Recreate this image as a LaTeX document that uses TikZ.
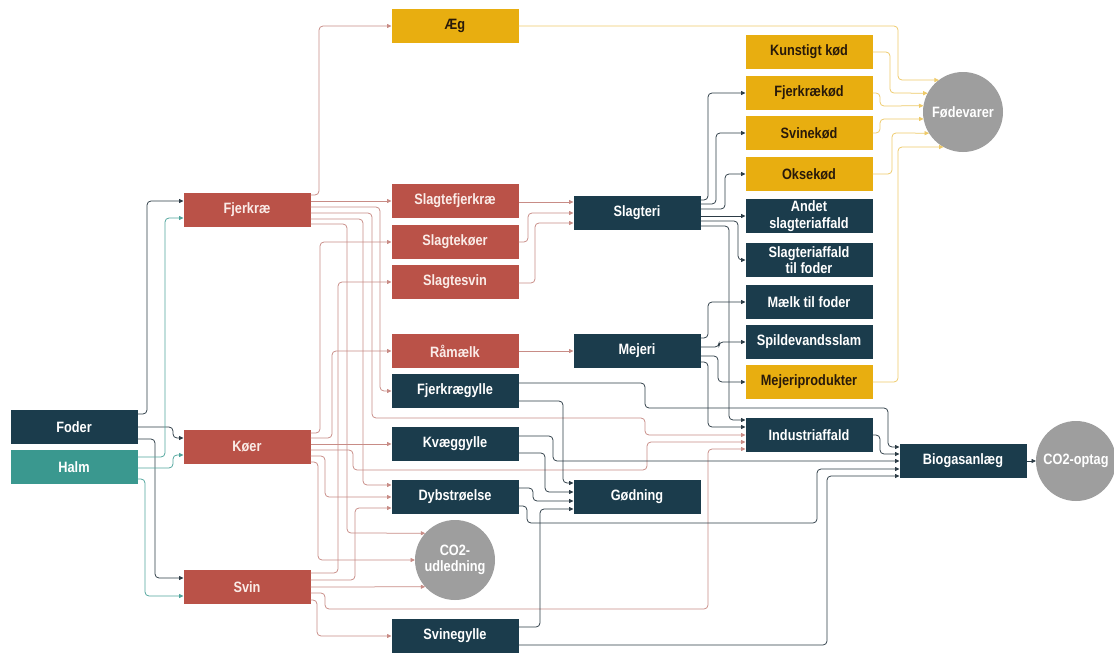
\documentclass[tikz,border=0pt]{standalone}
\usepackage{fontspec}
\setmainfont{Liberation Sans}[FakeStretch=0.85]
\usetikzlibrary{arrows.meta}
\definecolor{navy}{RGB}{27,60,76}
\definecolor{redb}{RGB}{186,82,72}
\definecolor{yell}{RGB}{232,174,16}
\definecolor{ytext}{RGB}{40,25,10}
\definecolor{tealb}{RGB}{58,152,143}
\definecolor{grayc}{RGB}{158,158,158}
\definecolor{rline}{RGB}{200,140,134}
\definecolor{dline}{RGB}{45,60,70}
\definecolor{tline}{RGB}{80,165,156}
\definecolor{yline}{RGB}{238,202,105}
\begin{document}
\begin{tikzpicture}[x=1pt,y=-1pt,
  box/.style={minimum width=127pt,minimum height=34pt,inner sep=1pt,outer sep=0pt,
    font=\fontsize{15}{16.5}\selectfont\bfseries,align=center,text=white},
  nb/.style={box,fill=navy},
  rb/.style={box,fill=redb,text={rgb,255:red,250;green,236;blue,232}},
  yb/.style={box,fill=yell,text=ytext},
  tb/.style={box,fill=tealb},
  gc/.style={circle,fill=grayc,minimum size=80pt,inner sep=0pt,outer sep=0pt,text=white,
    font=\fontsize{15}{16.5}\selectfont\bfseries,align=center},
  con/.style={line width=0.75pt,rounded corners=4pt,-{Triangle[length=4.5pt,width=4pt]}},
  rl/.style={con,draw=rline},
  dl/.style={con,draw=dline},
  tl/.style={con,draw=tline},
  yl/.style={con,draw=yline}]
\fill[white] (0,0) rectangle (1114,653);
\useasboundingbox (0,0) rectangle (1114,653);
% nodes
\node[yb] (aeg) at (455,26) {Æg};
\node[yb] (kunst) at (809,52) {Kunstigt kød};
\node[yb] (fjkod) at (809,93) {Fjerkrækød};
\node[yb] (svkod) at (809,133) {Svinekød};
\node[yb] (okkod) at (809,174) {Oksekød};
\node[nb] (andet) at (809,216) {Andet\\slagteriaffald};
\node[nb] (slaf) at (809,260) {Slagteriaffald\\til foder};
\node[nb] (maelk) at (809,302) {Mælk til foder};
\node[nb] (spild) at (809,342) {Spildevandsslam};
\node[yb] (mejprod) at (809,382) {Mejeriprodukter};
\node[nb] (indu) at (809,435) {Industriaffald};
\node[gc] (fode) at (963,112) {Fødevarer};
\node[nb] (bio) at (963,461) {Biogasanlæg};
\node[gc] (co2o) at (1076,461) {CO2-optag};
\node[rb] (fjerkrae) at (247,210) {Fjerkræ};
\node[nb] (foder) at (74,427) {Foder};
\node[tb] (halm) at (74,467) {Halm};
\node[rb] (koer) at (247,447) {Køer};
\node[rb] (svin) at (247,587) {Svin};
\node[rb] (slfj) at (455,201) {Slagtefjerkræ};
\node[rb] (slko) at (455,242) {Slagtekøer};
\node[rb] (slsv) at (455,282) {Slagtesvin};
\node[rb] (raa) at (455,351) {Råmælk};
\node[nb] (fjgy) at (455,391) {Fjerkrægylle};
\node[nb] (kvgy) at (455,444) {Kvæggylle};
\node[nb] (dyb) at (455,497) {Dybstrøelse};
\node[gc] (co2u) at (455,560) {CO2-\\udledning};
\node[nb] (svgy) at (455,636) {Svinegylle};
\node[nb] (slagteri) at (637,213) {Slagteri};
\node[nb] (mejeri) at (637,351) {Mejeri};
\node[nb] (godn) at (637,497) {Gødning};
% Foder and Halm
\draw[dl] (foder.east |- 0,414) -- (147,414) -- (147,201) -- (0,201 -| fjerkrae.west);
\draw[dl] (foder.east |- 0,427) -- (173,427) -- (173,438) -- (0,438 -| koer.west);
\draw[dl] (foder.east |- 0,439) -- (155,439) -- (155,578) -- (0,578 -| svin.west);
\draw[tl] (halm.east |- 0,457) -- (165,457) -- (165,218) -- (0,218 -| fjerkrae.west);
\draw[tl] (halm.east |- 0,468) -- (173,468) -- (173,455) -- (0,455 -| koer.west);
\draw[tl] (halm.east |- 0,479) -- (145,479) -- (145,596) -- (0,596 -| svin.west);
% Fjerkrae
\draw[rl] (fjerkrae.east |- 0,195) -- (319,195) -- (319,26) -- (0,26 -| aeg.west);
\draw[rl] (fjerkrae.east |- 0,201) -- (0,201 -| slfj.west);
\draw[rl] (fjerkrae.east |- 0,207) -- (380,207) -- (380,391) -- (0,391 -| fjgy.west);
\draw[rl] (fjerkrae.east |- 0,213) -- (372,213) -- (372,418) -- (645,418) -- (645,435) -- (0,435 -| indu.west);
\draw[rl] (fjerkrae.east |- 0,219) -- (363,219) -- (363,485) -- (0,485 -| dyb.west);
\draw[rl] (fjerkrae.east |- 0,224) -- (347,224) -- (347,533) -- (co2u.138);
% Koer
\draw[rl] (koer.east |- 0,433) -- (320,433) -- (320,242) -- (0,242 -| slko.west);
\draw[rl] (koer.east |- 0,438) -- (332,438) -- (332,351) -- (0,351 -| raa.west);
\draw[rl] (koer.east |- 0,444) -- (0,444 -| kvgy.west);
\draw[rl] (koer.east |- 0,450) -- (353,450) -- (353,470) -- (647,470) -- (647,442) -- (0,442 -| indu.west);
\draw[rl] (koer.east |- 0,456) -- (325,456) -- (325,497) -- (0,497 -| dyb.west);
\draw[rl] (koer.east |- 0,462) -- (318,462) -- (318,560) -- (co2u.west);
% Svin
\draw[rl] (svin.east |- 0,573) -- (338,573) -- (338,282) -- (0,282 -| slsv.west);
\draw[rl] (svin.east |- 0,580) -- (355,580) -- (355,508) -- (0,508 -| dyb.west);
\draw[rl] (svin.east |- 0,587) -- (co2u.222);
\draw[rl] (svin.east |- 0,593) -- (325,593) -- (325,609) -- (708,609) -- (708,449) -- (0,449 -| indu.west);
\draw[rl] (svin.east |- 0,600) -- (317,600) -- (317,636) -- (0,636 -| svgy.west);
% Slagte- and Raamaelk
\draw[rl] (slfj.east |- 0,202) -- (0,202 -| slagteri.west);
\draw[rl] (slko.east |- 0,242) -- (528,242) -- (528,213) -- (0,213 -| slagteri.west);
\draw[rl] (slsv.east |- 0,283) -- (535,283) -- (535,223) -- (0,223 -| slagteri.west);
\draw[rl] (raa.east |- 0,351) -- (0,351 -| mejeri.west);
% gylle etc.
\draw[dl] (fjgy.east |- 0,383) -- (645,383) -- (645,408) -- (888,408) -- (888,447) -- (0,447 -| bio.west);
\draw[dl] (fjgy.east |- 0,401) -- (563,401) -- (563,483) -- (0,483 -| godn.west);
\draw[dl] (kvgy.east |- 0,436) -- (553,436) -- (553,461) -- (0,461 -| bio.west);
\draw[dl] (kvgy.east |- 0,453) -- (545,453) -- (545,492) -- (0,492 -| godn.west);
\draw[dl] (dyb.east |- 0,488) -- (533,488) -- (533,501) -- (0,501 -| godn.west);
\draw[dl] (dyb.east |- 0,506) -- (527,506) -- (527,523) -- (817,523) -- (817,469) -- (0,469 -| bio.west);
\draw[dl] (svgy.east |- 0,627) -- (540,627) -- (540,509) -- (0,509 -| godn.west);
\draw[dl] (svgy.east |- 0,645) -- (827,645) -- (827,476) -- (0,476 -| bio.west);
\draw[dl] (indu.east |- 0,435) -- (880,435) -- (880,454) -- (0,454 -| bio.west);
% Slagteri
\draw[dl] (slagteri.east |- 0,200) -- (708,200) -- (708,93) -- (0,93 -| fjkod.west);
\draw[dl] (slagteri.east |- 0,204) -- (716,204) -- (716,133) -- (0,133 -| svkod.west);
\draw[dl] (slagteri.east |- 0,209) -- (725,209) -- (725,174) -- (0,174 -| okkod.west);
\draw[dl] (slagteri.east |- 0,216) -- (0,216 -| andet.west);
\draw[dl] (slagteri.east |- 0,221) -- (738,221) -- (738,260) -- (0,260 -| slaf.west);
\draw[dl] (slagteri.east |- 0,226) -- (729,226) -- (729,420) -- (0,420 -| indu.west);
% Mejeri
\draw[dl] (mejeri.east |- 0,338) -- (708,338) -- (708,302) -- (0,302 -| maelk.west);
\draw[dl] (mejeri.east |- 0,347) -- (719,347) -- (719,342) -- (0,342 -| spild.west);
\draw[dl] (mejeri.east |- 0,356) -- (718,356) -- (718,382) -- (0,382 -| mejprod.west);
\draw[dl] (mejeri.east |- 0,362) -- (708,362) -- (708,427) -- (0,427 -| indu.west);
% Biogas
\draw[dl] (bio.east) -- (co2o.west);
% Foedevarer
\draw[yl] (aeg.east |- 0,26) -- (898,26) -- (898,80) -- (fode.127);
\draw[yl] (kunst.east |- 0,52) -- (890,52) -- (890,93) -- (fode.152);
\draw[yl] (fjkod.east |- 0,93) -- (880,93) -- (880,106) -- (fode.171);
\draw[yl] (svkod.east |- 0,133) -- (880,133) -- (880,119) -- (fode.190);
\draw[yl] (okkod.east |- 0,174) -- (892,174) -- (892,133) -- (fode.212);
\draw[yl] (mejprod.east |- 0,382) -- (898,382) -- (898,147) -- (fode.241);
\end{tikzpicture}
\end{document}
